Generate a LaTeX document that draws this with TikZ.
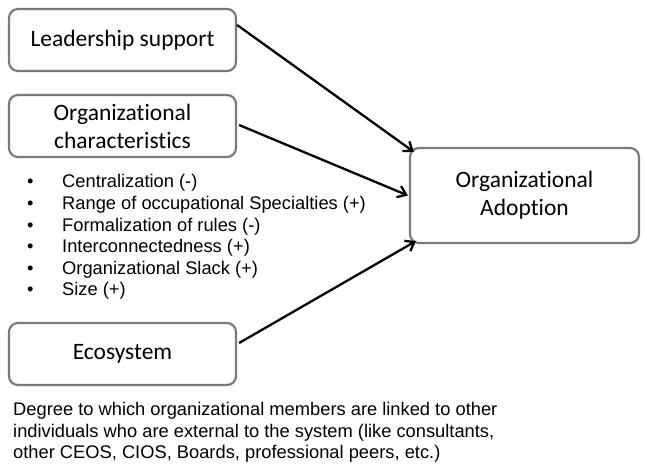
\documentclass[tikz,border=0pt]{standalone}
\usepackage{fontspec}
\setmainfont{Liberation Sans}
\newfontfamily\boxfont[Ligatures=NoCommon]{Carlito}
\usetikzlibrary{arrows.meta,calc}
\newcommand{\bul}{\makebox[35pt][l]{•}}
\begin{document}
\begin{tikzpicture}[x=1pt,y=-1pt,
  boxnode/.style={draw=black!52, line width=2.2pt, rounded corners=9pt, fill=white,
    align=center, font=\boxfont\fontsize{23.5}{28}\selectfont, inner sep=0pt},
  conn/.style={line width=2.3pt, -{Straight Barb[length=8pt,width=12pt,line width=2.3pt]}},
  plain/.style={align=left, anchor=north west, inner sep=0pt, font=\fontsize{18.3}{21.6}\selectfont}]
\useasboundingbox (0,0) rectangle (647,473);
\node[boxnode, minimum width=227pt, minimum height=62pt] (lead) at (122.5,40) {Leadership support};
\node[boxnode, minimum width=227pt, minimum height=62pt] (orgc) at (122.5,126) {Organizational\\characteristics};
\node[boxnode, minimum width=227pt, minimum height=62pt] (eco) at (122.5,354) {Ecosystem};
\node[boxnode, minimum width=229pt, minimum height=95pt] (adopt) at (524.5,195.5) {Organizational\\Adoption};
\node[plain] (bullets) at (27,174.5) {%
\bul Centralization (-)\\
\bul Range of occupational Specialties (+)\\
\bul Formalization of rules (-)\\
\bul Interconnectedness (+)\\
\bul Organizational Slack (+)\\
\bul Size (+)};
\node[plain] (desc) at (13,402) {Degree to which organizational members are linked to other\\
individuals who are external to the system (like consultants,\\
other CEOS, CIOS, Boards, professional peers, etc.)};
\draw[conn] ($(lead.east)+(0,-15)$) -- ($(adopt.north west)+(5,5)$);
\draw[conn] ($(orgc.east)+(2,-1)$) -- ($(adopt.west)+(-1,0)$);
\draw[conn] ($(eco.east)+(2,-11)$) -- ($(adopt.south west)+(7,-3)$);
\end{tikzpicture}
\end{document}
